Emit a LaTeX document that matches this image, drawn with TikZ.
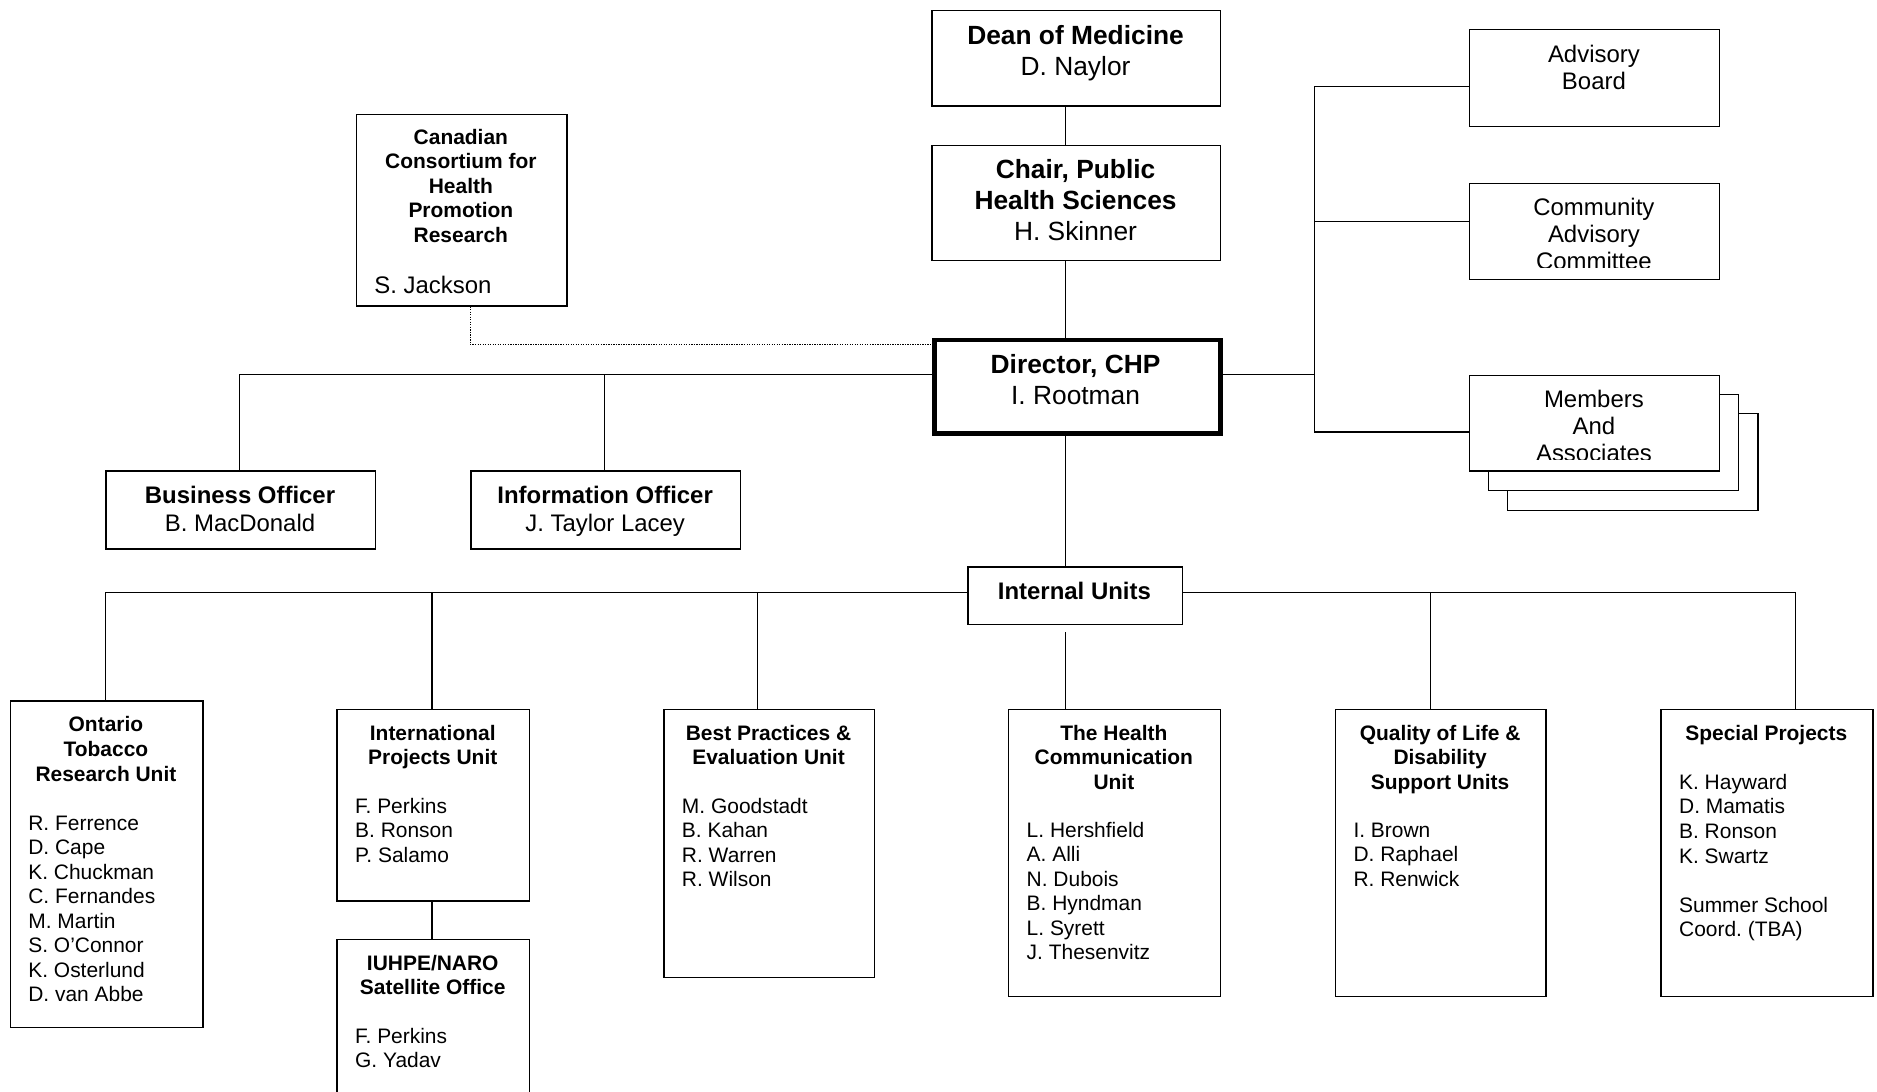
\documentclass[tikz,border=0pt]{standalone}
\usepackage{fontspec}
\setmainfont{Liberation Sans}
\frenchspacing
\begin{document}
\begin{tikzpicture}[x=1pt,y=-1pt,
  box/.style={draw, line width=1.1pt, fill=white, inner sep=0pt, anchor=north west},
  dirbox/.style={box, line width=4pt},
  conn/.style={line width=1.1pt},
  dotline/.style={line width=1.1pt, densely dotted},
  tbig/.style={font=\fontsize{22}{26}\selectfont, align=center, anchor=north, inner sep=0pt},
  tmid/.style={font=\fontsize{20}{22.5}\selectfont, align=center, anchor=north, inner sep=0pt},
  tmidb/.style={font=\fontsize{20}{24}\selectfont, align=center, anchor=north, inner sep=0pt},
  tone/.style={font=\fontsize{20}{24}\selectfont, inner sep=0pt},
  ttitle/.style={font=\fontsize{17.5}{20.5}\selectfont\bfseries, align=center, anchor=north, inner sep=0pt},
  tnames/.style={font=\fontsize{17.5}{20.5}\selectfont, align=left, anchor=north west, inner sep=0pt}
]
\useasboundingbox (0,0) rectangle (1568,912);
\clip (0,0) rectangle (1568,912);

% ---------- coordinates for connector joints ----------
\coordinate (spine) at (890,0);
\coordinate (jb) at (200,313);
\coordinate (ji) at (505,313);
\coordinate (jd) at (393,288);
\coordinate (rt) at (1098,313);
\coordinate (ra) at (1098,72);
\coordinate (rc) at (1098,185);
\coordinate (rm) at (1098,361);
\coordinate (d1) at (88,495);
\coordinate (d2) at (361,495);
\coordinate (d3) at (633,495);
\coordinate (d5) at (1195,495);
\coordinate (d6) at (1500,495);

% ---------- boxes ----------
\node[box, minimum width=241pt, minimum height=80pt] (dean) at (778,8) {};
\node[box, minimum width=241pt, minimum height=96pt] (chair) at (778,121) {};
\node[dirbox, minimum width=239pt, minimum height=78pt] (dir) at (778.5,282) {};
\node[box, minimum width=176pt, minimum height=160pt] (canadian) at (297,95) {};
\node[box, minimum width=225pt, minimum height=65pt] (business) at (88,393) {};
\node[box, minimum width=225pt, minimum height=65pt] (info) at (393,393) {};
\node[box, minimum width=209pt, minimum height=81pt] (advisory) at (1227,24) {};
\node[box, minimum width=209pt, minimum height=80pt] (community) at (1227,153) {};
\node[box, minimum width=209pt, minimum height=81pt] (shadowb) at (1259,345) {};
\node[box, minimum width=209pt, minimum height=80pt] (shadowa) at (1243,329) {};
\node[box, minimum width=209pt, minimum height=80pt] (members) at (1227,313) {};
\node[box, minimum width=179pt, minimum height=48pt] (iu) at (808,473) {};
\node[box, minimum width=161pt, minimum height=273pt] (ontario) at (8,585) {};
\node[box, minimum width=161pt, minimum height=160pt] (intl) at (281,592) {};
\node[box, minimum width=161pt, minimum height=150pt] (iuhpe) at (281,784) {};
\node[box, minimum width=176pt, minimum height=224pt] (best) at (554,592) {};
\node[box, minimum width=177pt, minimum height=240pt] (health) at (842,592) {};
\node[box, minimum width=176pt, minimum height=240pt] (quality) at (1115,592) {};
\node[box, minimum width=177pt, minimum height=240pt] (special) at (1387,592) {};

% ---------- connectors ----------
\draw[conn] (spine |- dean.south) -- (spine |- chair.north);
\draw[conn] (spine |- chair.south) -- (spine |- dir.north);
\draw[conn] (spine |- dir.south) -- (spine |- iu.north);
\draw[conn, shorten <=6pt] (spine |- iu.south) -- (spine |- health.north);
\draw[conn] (dir.west |- jb) -- (jb) -- (jb |- business.north);
\draw[conn] (ji) -- (ji |- info.north);
\draw[dotline] (jd |- canadian.south) -- (jd) -- (dir.west |- jd);
\draw[conn] (dir.east |- rt) -- (rt);
\draw[conn] (advisory.west |- ra) -- (ra) -- (rm) -- (members.west |- rm);
\draw[conn] (rc) -- (community.west |- rc);
\draw[conn] (iu.west |- d1) -- (d1) -- (d1 |- ontario.north);
\draw[conn] (d2) -- (d2 |- intl.north);
\draw[conn] (d3) -- (d3 |- best.north);
\draw[conn] (iu.east |- d6) -- (d6) -- (d6 |- special.north);
\draw[conn] (d5) -- (d5 |- quality.north);
\draw[conn] (intl.south -| d2) -- (iuhpe.north -| d2);

% ---------- texts: top ----------
\node[tbig] (tdean) at (898.5,18.7) {\strut\bfseries Dean of Medicine\\D. Naylor};
\node[tbig] (tchair) at (898.5,130.7) {\strut\bfseries Chair, Public\\\bfseries Health Sciences\\H. Skinner};
\node[tbig] (tdir) at (898.5,293.7) {\strut\bfseries Director, CHP\\I. Rootman};
\node[ttitle] (tcan) at (385,105.9) {\strut Canadian\\Consortium for\\Health\\Promotion\\Research};
\node[tone, anchor=base west] (tjackson) at (312.5,245.2) {S. Jackson};
\node[tmidb] (tbus) at (200.5,403.4) {\strut\bfseries Business Officer\\B. MacDonald};
\node[tmidb] (tinfo) at (505.5,403.4) {\strut\bfseries Information Officer\\J. Taylor Lacey};
\node[tone, anchor=base, font=\fontsize{20}{24}\selectfont\bfseries] (tiu) at (897.5,501.2) {Internal Units};

% ---------- texts: right ----------
\node[tmid] (tadv) at (1331.5,36.4) {\strut Advisory\\Board};
\begin{scope}
  \clip (1227,153) rectangle (1436,223.5);
  \node[tmid] (tcom) at (1331.5,164.4) {\strut Community\\Advisory\\Committee};
\end{scope}
\begin{scope}
  \clip (1227,313) rectangle (1436,384);
  \node[tmid] (tmem) at (1331.5,324.4) {\strut Members\\And\\Associates};
\end{scope}

% ---------- texts: bottom units ----------
\node[ttitle] (tont) at (88.5,596.9) {\strut Ontario\\Tobacco\\Research Unit};
\node[tnames] (nont) at (23.5,678.9) {\strut R. Ferrence\\D. Cape\\K. Chuckman\\C. Fernandes\\M. Martin\\S. O’Connor\\K. Osterlund\\D. van Abbe};

\node[ttitle] (tintl) at (361.5,603.9) {\strut International\\Projects Unit};
\node[tnames] (nintl) at (296.5,664.9) {\strut F. Perkins\\B. Ronson\\P. Salamo};

\node[ttitle] (tiuhpe) at (361.5,795.9) {\strut IUHPE/NARO\\Satellite Office};
\node[tnames] (niuhpe) at (296.5,856.9) {\strut F. Perkins\\G. Yadav};

\node[ttitle] (tbest) at (642,603.9) {\strut Best Practices \&\\Evaluation Unit};
\node[tnames] (nbest) at (569.5,664.9) {\strut M. Goodstadt\\B. Kahan\\R. Warren\\R. Wilson};

\node[ttitle] (thealth) at (930.5,603.9) {\strut The Health\\Communication\\Unit};
\node[tnames] (nhealth) at (857.5,684.9) {\strut L. Hershfield\\A. Alli\\N. Dubois\\B. Hyndman\\L. Syrett\\J. Thesenvitz};

\node[ttitle] (tqual) at (1203,603.9) {\strut Quality of Life \&\\Disability\\Support Units};
\node[tnames] (nqual) at (1130.5,684.9) {\strut I. Brown\\D. Raphael\\R. Renwick};

\node[ttitle] (tspec) at (1475.5,603.9) {\strut Special Projects};
\node[tnames] (nspec) at (1402.5,644.9) {\strut K. Hayward\\D. Mamatis\\B. Ronson\\K. Swartz\\[20.5pt]Summer School\\Coord. (TBA)};

\end{tikzpicture}
\end{document}
